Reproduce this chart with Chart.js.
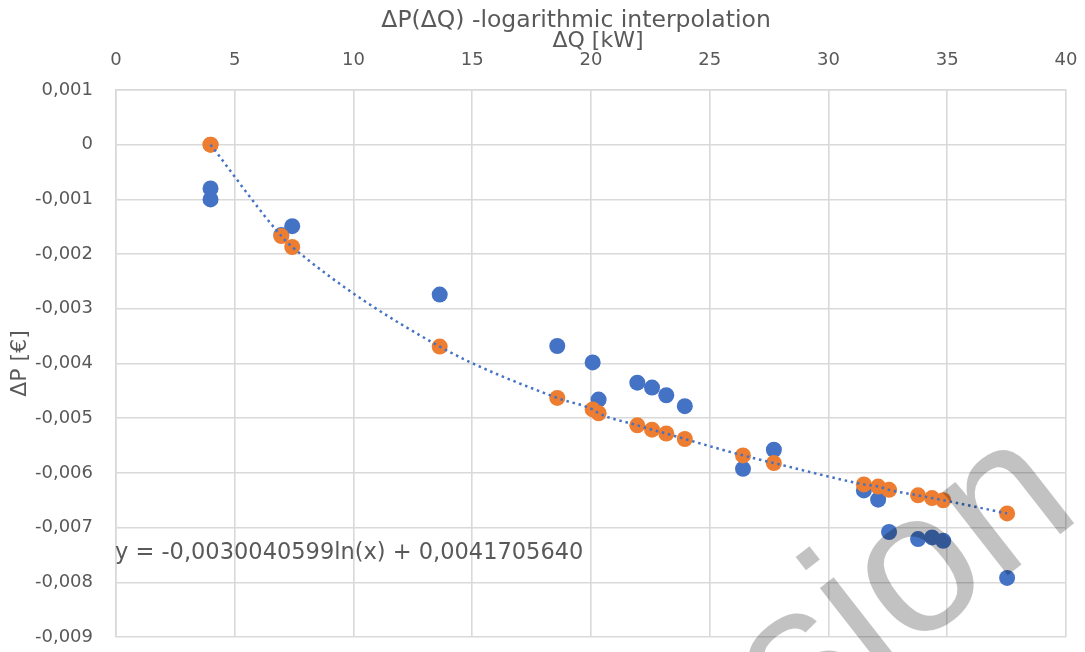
<!DOCTYPE html>
<html>
<head>
<meta charset="utf-8">
<script src="https://cdn.jsdelivr.net/npm/chart.js@4.4.1/dist/chart.umd.min.js"></script>
<style>
  html, body { margin: 0; padding: 0; background: #fff; }
  #wrap { width: 1085px; height: 652px; }
</style>
</head>
<body>
<div id="wrap"><canvas id="grafico" width="1085" height="652"></canvas></div>
<script>
// datos
const dq = [3.98, 3.98, 6.96, 7.42, 13.63, 18.58, 20.07, 20.32, 21.95, 22.57, 23.17, 23.95,
  26.40, 27.70, 31.49, 32.09, 32.55, 33.77, 34.36, 34.83, 37.52];
const dpMedido = [-0.0008, -0.001, -0.00165, -0.00149, -0.00274, -0.00368, -0.00398, -0.00466,
  -0.00435, -0.00444, -0.00458, -0.00478, -0.005925, -0.005577, -0.00632, -0.00649, -0.00708,
  -0.00721, -0.00718, -0.00724, -0.00792];
const dpAjustado = [0, 0, -0.00167, -0.00187, -0.00369, -0.00463, -0.00484, -0.00491, -0.00513,
  -0.00521, -0.00528, -0.00538, -0.00568, -0.00582, -0.00621, -0.00625, -0.00631, -0.00641,
  -0.00646, -0.0065, -0.00674];

const xTickValues = [0, 5, 10, 15, 20, 25, 30, 35, 40];
const xTickLabels = ["0", "5", "10", "15", "20", "25", "30", "35", "40"];
const yTickValues = [0.001, 0, -0.001, -0.002, -0.003, -0.004, -0.005, -0.006, -0.007, -0.008, -0.009];
const yTickLabels = ["0,001", "0", "-0,001", "-0,002", "-0,003", "-0,004", "-0,005", "-0,006", "-0,007", "-0,008", "-0,009"];

const titulo = "ΔP(ΔQ) -logarithmic interpolation";
const tituloX = "ΔQ [kW]";
const tituloY = "ΔP [€]";
const ecuacion = "y = -0,0030040599ln(x) + 0,0041705640";

const FUENTE = "DejaVu Sans";
const GRIS = "#595959";
const REJILLA = "#d9d9d9";

const puntosMedidos = dq.map((x, i) => ({ x: x, y: dpMedido[i] }));
const puntosAjustados = dq.map((x, i) => ({ x: x, y: dpAjustado[i] }));
// la linea de tendencia pasa por los puntos ajustados (sin x repetidas)
const puntosTendencia = puntosAjustados.filter((p, i) => i === 0 || p.x !== puntosAjustados[i - 1].x);

function etiqueta(valores, etiquetas, v) {
  const i = valores.findIndex(t => Math.abs(t - v) < 1e-9);
  return i >= 0 ? etiquetas[i] : "";
}

function sinRelleno(s) {
  s.paddingLeft = 0;
  s.paddingRight = 0;
  s.paddingTop = 0;
  s.paddingBottom = 0;
}

// texto de la ecuacion y marca de agua
const extras = {
  id: "extras",
  afterDraw(chart) {
    const ctx = chart.ctx;
    ctx.save();
    ctx.font = "22.5px '" + FUENTE + "'";
    ctx.fillStyle = GRIS;
    ctx.textBaseline = "alphabetic";
    ctx.fillText(ecuacion, 115, 559);
    ctx.restore();

    ctx.save();
    const tam = 200;
    ctx.font = tam + "px 'Liberation Sans'";
    ctx.fillStyle = "rgba(0,0,0,0.24)";
    ctx.translate(921, 577);
    ctx.rotate(-38 * Math.PI / 180);
    const antes = ctx.measureText("Versi").width;
    const o = ctx.measureText("o").width;
    ctx.fillText("Version", -antes - o / 2, 0.26 * tam);
    ctx.restore();
  }
};

const ctx = document.getElementById("grafico").getContext("2d");
new Chart(ctx, {
  type: "scatter",
  data: {
    datasets: [
      {
        label: "tendencia",
        data: puntosTendencia,
        showLine: true,
        pointRadius: 0,
        borderColor: "#4472C4",
        borderWidth: 2.5,
        borderDash: [2.5, 3.8],
        cubicInterpolationMode: "monotone",
        fill: false,
        order: 0
      },
      {
        label: "ajustado",
        data: puntosAjustados,
        pointRadius: 8,
        pointBackgroundColor: "#ED7D31",
        pointBorderWidth: 0,
        order: 1
      },
      {
        label: "medido",
        data: puntosMedidos,
        pointRadius: 8,
        pointBackgroundColor: "#4472C4",
        pointBorderWidth: 0,
        order: 2
      }
    ]
  },
  options: {
    responsive: false,
    animation: false,
    events: [],
    layout: { padding: { top: 0, right: 19, bottom: 15, left: 0 } },
    plugins: {
      legend: { display: false },
      tooltip: { enabled: false },
      title: {
        display: true,
        fullSize: false,
        // espacios al final para correr el titulo un poco a la izquierda
        text: titulo + "    ",
        color: GRIS,
        font: { family: FUENTE, size: 23.5, weight: "normal" },
        padding: { top: 7, bottom: -14 }
      }
    },
    scales: {
      x: {
        type: "linear",
        position: "top",
        min: 0,
        max: 40,
        afterBuildTicks: s => { s.ticks = xTickValues.map(v => ({ value: v })); },
        afterFit: s => { s.height = 68.8; sinRelleno(s); },
        ticks: {
          color: GRIS,
          font: { family: FUENTE, size: 18 },
          padding: 19,
          maxRotation: 0,
          callback: v => etiqueta(xTickValues, xTickLabels, v)
        },
        grid: { color: REJILLA, lineWidth: 1.6, drawTicks: false },
        border: { color: REJILLA, width: 1.6 },
        title: {
          display: true,
          text: "  " + tituloX,
          color: GRIS,
          font: { family: FUENTE, size: 22, weight: "normal" },
          padding: { top: 6.5, bottom: 0 }
        }
      },
      y: {
        type: "linear",
        min: -0.009,
        max: 0.001,
        afterBuildTicks: s => { s.ticks = yTickValues.slice().reverse().map(v => ({ value: v })); },
        afterFit: s => { s.width = 116; sinRelleno(s); },
        ticks: {
          color: GRIS,
          font: { family: FUENTE, size: 18 },
          padding: 23,
          callback: v => etiqueta(yTickValues, yTickLabels, v)
        },
        grid: { color: REJILLA, lineWidth: 1.6, drawTicks: false },
        border: { color: REJILLA, width: 1.6 },
        title: {
          display: true,
          text: tituloY,
          color: GRIS,
          font: { family: FUENTE, size: 22, weight: "normal" },
          padding: { top: 7, bottom: 0 }
        }
      }
    }
  },
  plugins: [extras]
});
</script>
</body>
</html>
